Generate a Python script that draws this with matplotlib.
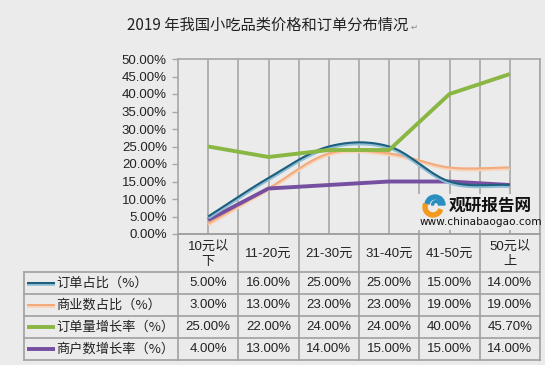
import numpy as np
import matplotlib.pyplot as plt
from matplotlib.patches import Wedge, Rectangle

plt.rcParams['font.family'] = ['Liberation Sans', 'Noto Sans CJK SC', 'DejaVu Sans']

# data
categories = ['10元以\n下', '11-20元', '21-30元', '31-40元', '41-50元', '50元以\n上']
series_names = ['订单占比（%）', '商业数占比（%）', '订单量增长率（%）', '商户数增长率（%）']
order_share = [5.00, 16.00, 25.00, 25.00, 15.00, 14.00]
merchant_share = [3.00, 13.00, 23.00, 23.00, 19.00, 19.00]
order_growth = [25.00, 22.00, 24.00, 24.00, 40.00, 45.70]
merchant_growth = [4.00, 13.00, 14.00, 15.00, 15.00, 14.00]
y_ticks = np.arange(0, 50.01, 5)

title = '2019 年我国小吃品类价格和订单分布情况'


def smooth(xs, ys, n=40):
    # catmull-rom curve through the points (like excel "smoothed line")
    xs = np.asarray(xs, float)
    ys = np.asarray(ys, float)
    px = np.concatenate([[2 * xs[0] - xs[1]], xs, [2 * xs[-1] - xs[-2]]])
    py = np.concatenate([[2 * ys[0] - ys[1]], ys, [2 * ys[-1] - ys[-2]]])
    t = np.linspace(0, 1, n)
    ox, oy = [], []
    for i in range(1, len(px) - 2):
        for p, out in ((px, ox), (py, oy)):
            p0, p1, p2, p3 = p[i - 1], p[i], p[i + 1], p[i + 2]
            out.extend(0.5 * (2 * p1 + (-p0 + p2) * t
                              + (2 * p0 - 5 * p1 + 4 * p2 - p3) * t ** 2
                              + (-p0 + 3 * p1 - 3 * p2 + p3) * t ** 3))
    return np.array(ox), np.array(oy)


bg = '#ebebeb'
grid_c = '#a6a6a6'
W, H = 545, 365

fig = plt.figure(figsize=(5.45, 3.65), dpi=100)
fig.patch.set_facecolor(bg)

# plot area in pixels: x 178..540, y 59..234
x0, x1, ytop, ybot = 178, 540, 59, 234
ax = fig.add_axes([x0 / W, 1 - ybot / H, (x1 - x0) / W, (ybot - ytop) / H])
ax.set_facecolor('none')

x = np.arange(len(categories))
ax.set_xlim(-0.5, len(categories) - 0.5)
ax.set_ylim(0, 50)

for gx in np.arange(0, len(categories) - 0.4, 0.5):
    ax.axvline(gx, color=grid_c, lw=1.2, zorder=0)

# lines
sx, sy = smooth(x, order_share)
ax.plot(sx, sy - 0.35, color='#8fbdd3', lw=2.6, solid_capstyle='butt', zorder=3)
ax.plot(sx, sy, color='#1d5f7f', lw=1.5, solid_capstyle='butt', zorder=3)
sx, sy = smooth(x, merchant_share)
ax.plot(sx, sy - 0.3, color='#f9d3b8', lw=2.6, solid_capstyle='butt', zorder=2)
ax.plot(sx, sy, color='#f2ab7d', lw=1.5, solid_capstyle='butt', zorder=2)
ax.plot(x, order_growth, color='#8ab743', lw=2.8, solid_capstyle='butt', zorder=4)
ax.plot(x, merchant_growth, color='#7650a0', lw=2.8, solid_capstyle='butt', zorder=2)

ax.set_yticks(y_ticks)
ax.set_yticklabels([f'{v:.2f}%' for v in y_ticks], fontsize=9.5, color='#222222')
ax.set_xticks([])
ax.tick_params(axis='y', length=4, width=1, color=grid_c, pad=4)
for s in ax.spines.values():
    s.set_color(grid_c)
    s.set_linewidth(1.2)

# overlay in pixel coords for table, title and watermark
ov = fig.add_axes([0, 0, 1, 1])
ov.set_xlim(0, W)
ov.set_ylim(H, 0)
ov.set_autoscale_on(False)
ov.axis('off')
ov.patch.set_alpha(0)

ov.text(268, 25, title, ha='center', va='center', fontsize=11,
        color='#222222', family=['Noto Sans CJK SC'])
ov.text(411, 27, '↵', ha='left', va='center', fontsize=6, color='#888888',
        family=['DejaVu Sans'])

# table
col_w = (x1 - x0) / len(categories)
rows = [ybot, 272, 294, 316, 338, 360]
tleft = 24
lc = '#a0a0a0'
ov.plot([x0, x1], [ybot, ybot], color=lc, lw=1.2)
for ry in rows[1:]:
    ov.plot([tleft, x1], [ry, ry], color=lc, lw=1.2)
ov.plot([tleft, tleft], [rows[1], rows[-1]], color=lc, lw=1.2)
for i in range(len(categories) + 1):
    cx = x0 + i * col_w
    ov.plot([cx, cx], [ybot, rows[-1]], color=lc, lw=1.2)

for i, c in enumerate(categories):
    ov.text(x0 + (i + 0.5) * col_w, (rows[0] + rows[1]) / 2 + 1, c, ha='center',
            va='center', fontsize=9.5, color='#222222', linespacing=1.4)

key_styles = [
    [('#8fbdd3', 2.6, 0.8), ('#1d5f7f', 1.5, 0)],
    [('#f9d3b8', 2.6, 0.8), ('#f2ab7d', 1.5, 0)],
    [('#8ab743', 2.8, 0)],
    [('#7650a0', 2.8, 0)],
]
table_vals = [order_share, merchant_share, order_growth, merchant_growth]
for r, (name, vals) in enumerate(zip(series_names, table_vals)):
    cy = (rows[r + 1] + rows[r + 2]) / 2
    for col, lw, dy in key_styles[r]:
        ov.plot([27, 55], [cy + dy, cy + dy], color=col, lw=lw, solid_capstyle='butt')
    ov.text(56, cy, name, ha='left', va='center', fontsize=9.5, color='#222222',
            family=['Noto Sans CJK SC'])
    for i, v in enumerate(vals):
        ov.text(x0 + (i + 0.5) * col_w, cy, f'{v:.2f}%', ha='center', va='center',
                fontsize=9.5, color='#222222')

# watermark
ov.add_patch(Rectangle((418, 194), 118, 36, facecolor=bg, edgecolor='none', zorder=5))
ov.add_patch(Wedge((435, 205), 10, 190, 360, width=4, color='#2a8fc0', zorder=6))
ov.add_patch(Wedge((433, 207), 10, 20, 200, width=4, color='#f39a1e', zorder=6))
ov.add_patch(Wedge((436, 205), 4.5, 180, 360, width=2, color='#2a8fc0', zorder=6))
ov.text(449, 206, '观研报告网', ha='left', va='center', fontsize=12, fontweight='bold',
        color='#111111', family=['Noto Sans CJK SC'], zorder=7)
ov.text(420, 222, 'www.chinabaogao.com', ha='left', va='center', fontsize=7.6,
        color='#111111', family=['DejaVu Sans'], zorder=7)

fig.savefig('out.png', dpi=100, facecolor=bg)
